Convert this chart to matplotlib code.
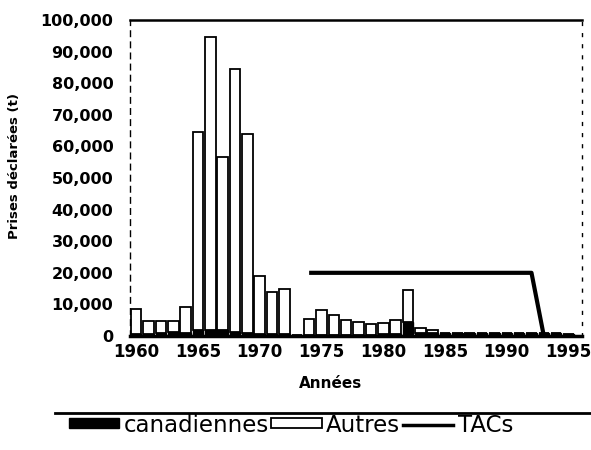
import numpy as np
import matplotlib
matplotlib.use('Agg')
import matplotlib.pyplot as plt
from matplotlib.patches import Patch
from matplotlib.lines import Line2D
from matplotlib.ticker import FuncFormatter

# catches by year (t)
years = np.arange(1960, 1996)
total = [8500, 4800, 4800, 4800, 9300, 64500, 94500, 56500, 84500, 64000,
         19000, 14000, 15000, 300, 5400, 8100, 6600, 5000, 4400, 3800,
         4000, 5000, 14600, 2500, 1900, 800, 800, 900, 1000, 1000,
         1000, 900, 900, 1000, 800, 700]
canadiennes = [500, 600, 1000, 1200, 1000, 1800, 2000, 1800, 1200, 800,
               600, 500, 500, 300, 300, 300, 300, 300, 300, 400,
               500, 600, 4500, 1000, 800, 800, 800, 900, 1000, 1000,
               1000, 900, 900, 1000, 800, 700]
autres = [t - c for t, c in zip(total, canadiennes)]

tac_years = list(range(1974, 1993)) + [1993]
tac = [20000] * 19 + [0]

fig = plt.figure(figsize=(5.91, 4.5), dpi=100)
ax = fig.add_axes([0.22, 0.2533, 0.765, 0.7022])

ax.bar(years, canadiennes, width=0.85, color='black', edgecolor='black', linewidth=1)
ax.bar(years, autres, width=0.85, bottom=canadiennes, color='white',
       edgecolor='black', linewidth=1.3)
ax.plot(tac_years, tac, color='black', linewidth=3, solid_capstyle='butt')

ax.set_xlim(1959.5, 1996.1)
ax.set_ylim(0, 100000)
ax.set_xticks(np.arange(1960, 1996, 5))
ax.set_yticks(np.arange(0, 100001, 10000))
ax.yaxis.set_major_formatter(FuncFormatter(lambda v, p: '{:,}'.format(int(v))))
ax.tick_params(axis='both', length=0)
ax.tick_params(axis='y', pad=12)
ax.tick_params(axis='x', pad=5)
for lab in ax.get_yticklabels():
    lab.set_fontweight('bold')
    lab.set_fontsize(11.5)
for lab in ax.get_xticklabels():
    lab.set_fontweight('bold')
    lab.set_fontsize(12)

ax.spines['top'].set_linewidth(1.8)
ax.spines['bottom'].set_linewidth(2.5)
ax.spines['left'].set_linewidth(1)
ax.spines['left'].set_linestyle((0, (4, 4)))
ax.spines['right'].set_linewidth(1)
ax.spines['right'].set_linestyle((0, (2, 6)))

fig.text(15 / 591, 1 - 166 / 450, 'Prises déclarées (t)', rotation=90,
         ha='center', va='center', fontsize=9.5, fontweight='bold')
fig.text(331 / 591, 1 - 383 / 450, 'Années', ha='center', va='center',
         fontsize=11, fontweight='bold')

fig.add_artist(Line2D([55 / 591, 1.0], [1 - 413 / 450, 1 - 413 / 450],
                      color='black', linewidth=2))

handles = [Patch(facecolor='black', edgecolor='black'),
           Patch(facecolor='white', edgecolor='black', linewidth=1.3),
           Line2D([], [], color='black', linewidth=2.5)]
fig.legend(handles, ['canadiennes', 'Autres', 'TACs'], ncol=3,
           loc='center', bbox_to_anchor=(0.492, 1 - 425 / 450),
           frameon=False, fontsize=16.5, handlelength=2.2, handleheight=0.3,
           handletextpad=0.2, columnspacing=0.1, borderpad=0, borderaxespad=0)

fig.savefig('out.png', dpi=100)
